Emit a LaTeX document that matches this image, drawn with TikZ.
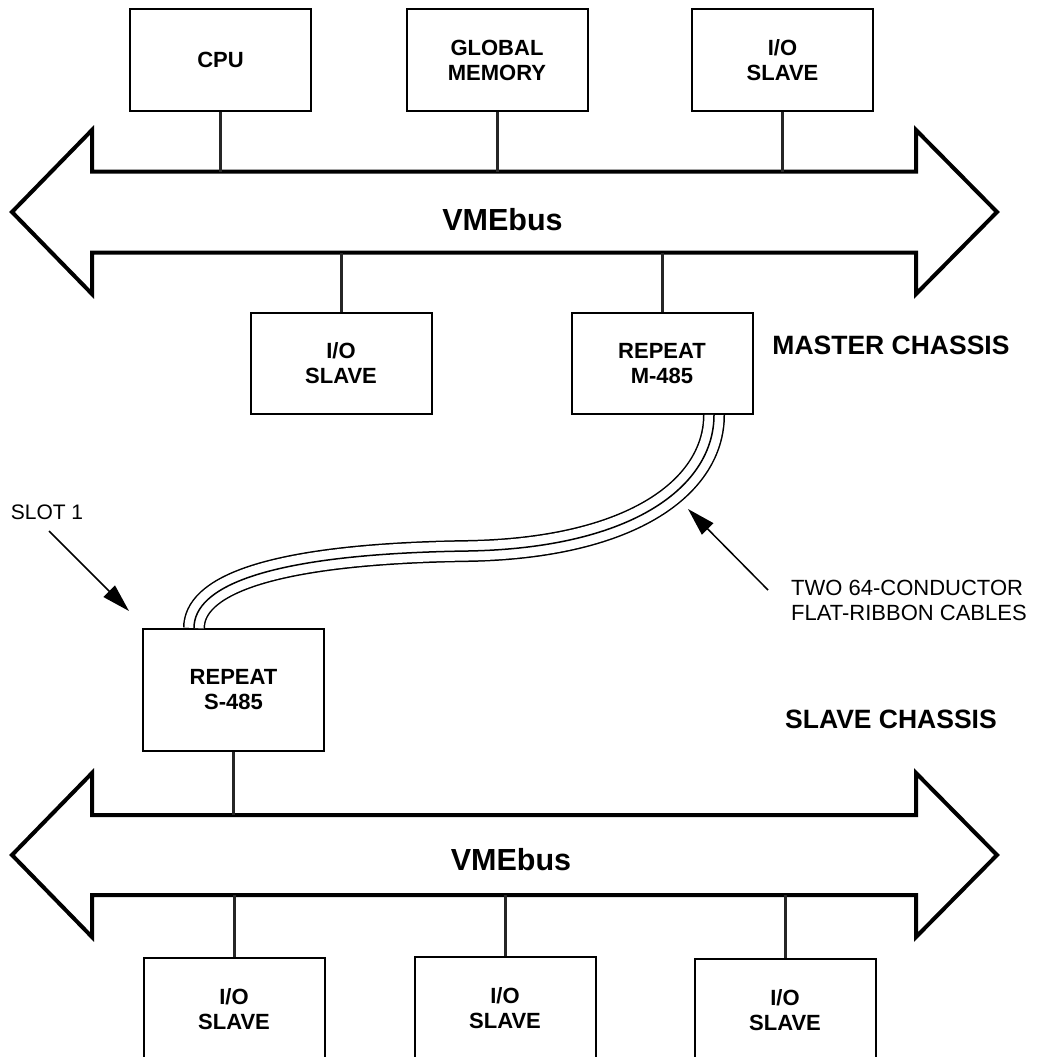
\documentclass[tikz,border=0pt]{standalone}
\usepackage{fontspec}
\setmainfont{Liberation Sans}
\usetikzlibrary{arrows.meta,calc}
\begin{document}
\begin{tikzpicture}[x=1pt,y=-1pt,
  box/.style={draw, line width=2pt, minimum width=181pt, minimum height=101pt, inner sep=0pt, align=center, font=\fontsize{22}{25}\selectfont\bfseries},
  bus/.style={line width=4pt, line join=miter, miter limit=10},
  link/.style={line width=3pt, draw=black!85},
  lbl/.style={font=\fontsize{22}{25}\selectfont, align=left, inner sep=0pt},
  callout/.style={line width=1.5pt, -{Triangle[length=28pt,width=16pt]}},
  chassis/.style={font=\fontsize{26.5}{30}\selectfont\bfseries, inner sep=0pt},
  buslabel/.style={anchor=base, font=\fontsize{30.5}{34}\selectfont\bfseries, inner sep=0pt},
  cable/.style={line width=1.5pt, double=white, double distance=19pt}
]
\useasboundingbox (0,0) rectangle (1038,1057);
\clip (0,0) rectangle (1038,1057);

% master bus
\draw[bus] (92,171.5) -- (916,171.5) -- (916,130) -- (997,212) -- (916,294) -- (916,252.5)
  -- (92,252.5) -- (92,294) -- (12,212) -- (92,130) -- cycle;
\coordinate (busAtop) at (0,171.5);
\coordinate (busAbot) at (0,252.5);
\node[buslabel] (vmeA) at (502.5,230) {VMEbus};

% slave bus
\draw[bus] (92,815) -- (916,815) -- (916,773) -- (997,855) -- (916,937) -- (916,895)
  -- (92,895) -- (92,937) -- (12,855) -- (92,773) -- cycle;
\coordinate (busBtop) at (0,815);
\coordinate (busBbot) at (0,895);
\node[buslabel] (vmeB) at (511,870) {VMEbus};

% master chassis boxes
\node[box] (cpu) at (220.5,60) {CPU};
\node[box] (gm) at (497,60) {GLOBAL\\MEMORY};
\node[box] (iosA) at (782.5,60) {I/O\\SLAVE};
\node[box] (iosB) at (341,363.5) {I/O\\SLAVE};
\node[box] (m485) at (662,363.5) {REPEAT\\M-485};

% slave chassis boxes
\node[box, minimum height=122pt] (s485) at (233.5,690) {REPEAT\\S-485};
\node[box, minimum height=102pt] (iosC) at (234,1009) {I/O\\SLAVE};
\node[box, minimum height=102pt] (iosD) at (505,1008) {I/O\\SLAVE};
\node[box, minimum height=102pt] (iosE) at (785,1010) {I/O\\SLAVE};

% connectors
\draw[link] (cpu.south) -- (cpu.south |- busAtop);
\draw[link] (gm.south) -- (gm.south |- busAtop);
\draw[link] (iosA.south) -- (iosA.south |- busAtop);
\draw[link] (iosB.north) -- (iosB.north |- busAbot);
\draw[link] (m485.north) -- (m485.north |- busAbot);
\draw[link] (s485.south) -- (s485.south |- busBtop);
\draw[link] (iosC.north) -- (iosC.north |- busBbot);
\draw[link] (iosD.north) -- (iosD.north |- busBbot);
\draw[link] (iosE.north) -- (iosE.north |- busBbot);

% ribbon cables
\coordinate (cabA) at ([xshift=52pt]m485.south);
\coordinate (cabB) at ([xshift=-39.5pt]s485.north);
\draw[cable] (cabA) .. controls (714,485) and (635,548) .. (468,551)
  .. controls (262,554) and (194,588) .. (cabB);
\draw[line width=1.5pt] (cabA) .. controls (714,485) and (635,548) .. (468,551)
  .. controls (262,554) and (194,588) .. (cabB);

% labels
\node[chassis] (mc) at (891,345) {MASTER CHASSIS};
\node[chassis] (sc) at (891,719) {SLAVE CHASSIS};
\node[lbl, anchor=west] (cbl) at (791,600.5) {TWO 64-CONDUCTOR\\FLAT-RIBBON CABLES};
\node[font=\fontsize{21}{25}\selectfont, inner sep=0pt] (slot) at (47,512) {SLOT 1};

\coordinate (cblTail) at (768,590);
\coordinate (cblHead) at (688,509);
\draw[callout] (cblTail) -- (cblHead);
\coordinate (slotTail) at (49,531);
\coordinate (slotHead) at (129,611);
\draw[callout] (slotTail) -- (slotHead);
\end{tikzpicture}
\end{document}
